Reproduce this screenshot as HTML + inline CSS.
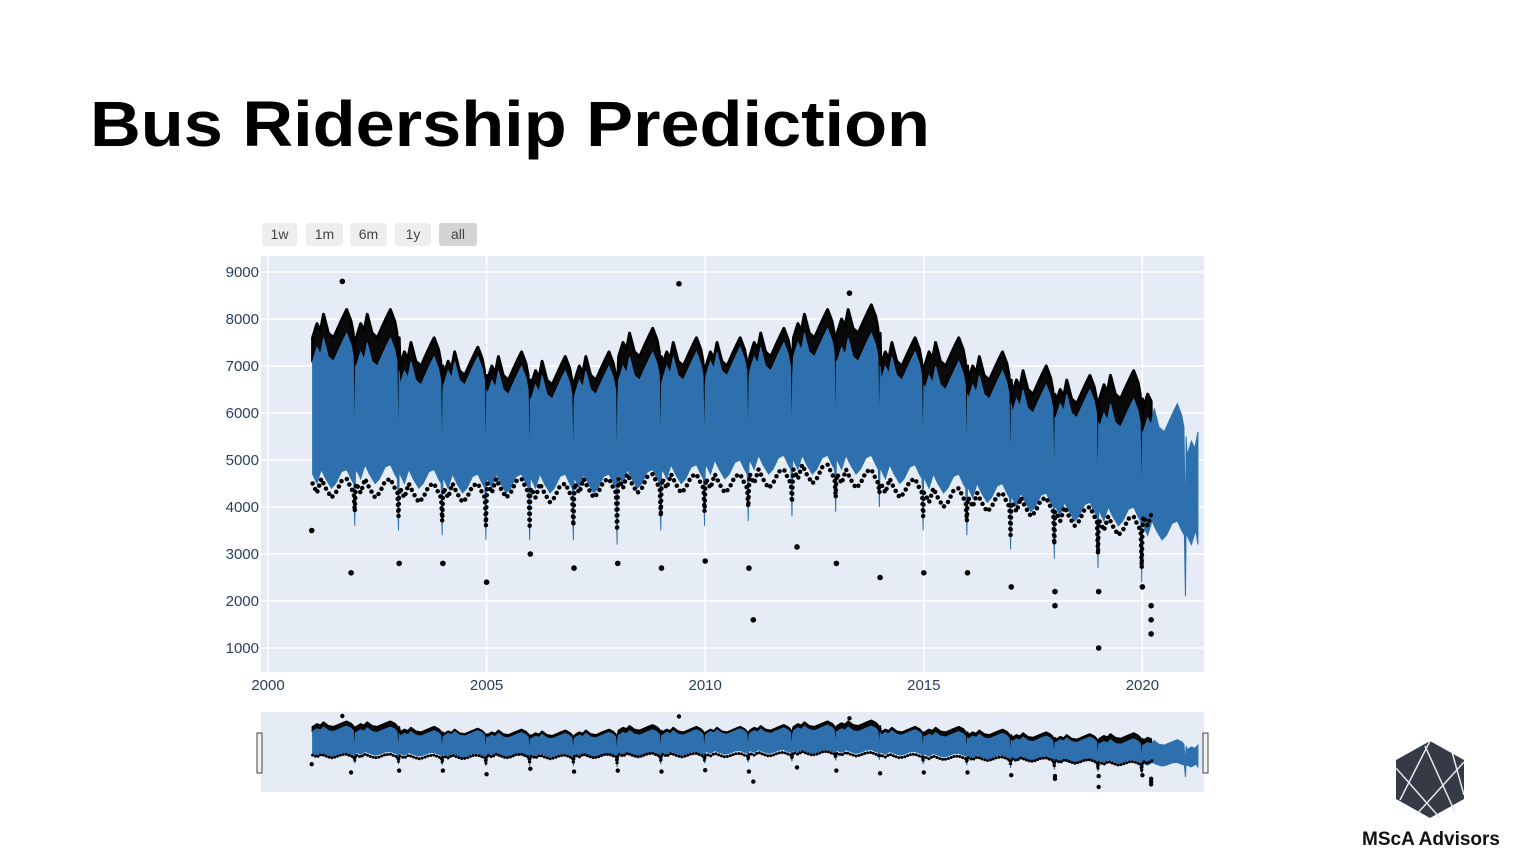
<!DOCTYPE html>
<html><head><meta charset="utf-8"><style>
html,body{margin:0;padding:0;background:#fff;}
svg{display:block;font-family:"Liberation Sans",sans-serif;}
</style></head><body>
<svg id="s" width="1514" height="860" viewBox="0 0 1514 860">
<text x="90" y="146" font-size="64" font-weight="bold" textLength="840" lengthAdjust="spacingAndGlyphs" fill="#000">Bus Ridership Prediction</text>
<g font-size="14" fill="#444">
<g><rect x="262" y="223" width="35" height="23" rx="3" fill="#eeeeee"/><text x="279.5" y="239" text-anchor="middle" fill="#444">1w</text></g>
<g><rect x="306" y="223" width="37" height="23" rx="3" fill="#eeeeee"/><text x="324.5" y="239" text-anchor="middle" fill="#444">1m</text></g>
<g><rect x="350" y="223" width="37" height="23" rx="3" fill="#eeeeee"/><text x="368.5" y="239" text-anchor="middle" fill="#444">6m</text></g>
<g><rect x="395" y="223" width="36" height="23" rx="3" fill="#eeeeee"/><text x="413" y="239" text-anchor="middle" fill="#444">1y</text></g>
<g><rect x="439" y="223" width="38" height="23" rx="3" fill="#d4d4d4"/><text x="458" y="239" text-anchor="middle" fill="#444">all</text></g>
</g>
<rect x="261" y="256" width="943" height="416" fill="#e5ecf6"/>
<g id="grid"></g>
<g id="main"></g>
<g id="axes" font-size="15" fill="#2a3f5f"></g>
<rect x="261" y="712" width="943" height="80" fill="#e5ecf6"/>
<g id="mini"></g>
<rect x="257" y="733" width="5" height="40" fill="#f2f2f2" stroke="#444"/>
<rect x="1203" y="733" width="5" height="40" fill="#f2f2f2" stroke="#444"/>
<g>
<polygon points="1430,741 1464,760 1464,799 1430,818 1396,799 1396,760" fill="#343b46"/>
<g stroke="#e8e8e8" stroke-width="1.5" fill="none">
<line x1="1430" y1="741" x2="1400" y2="800"/><line x1="1425" y1="746" x2="1455" y2="812"/>
<line x1="1396" y1="768" x2="1440" y2="818"/><line x1="1464" y1="762" x2="1416" y2="815"/>
<line x1="1452" y1="752" x2="1464" y2="795"/>
</g>
<text x="1431" y="845" font-size="19" font-weight="bold" text-anchor="middle" fill="#111">MScA Advisors</text>
</g>
</svg>
<script>
const years=[2001,2002,2003,2004,2005,2006,2007,2008,2009,2010,2011,2012,2013,2014,2015,2016,2017,2018,2019,2020,2021];
const bandUpper=[7700,7600,7200,7200,7000,6900,7000,7300,7300,7400,7500,7800,7700,7300,7100,6900,6600,6500,6300,6200,5700];
const bandLower=[4500,4600,4500,4400,4400,4400,4400,4500,4600,4700,4800,4800,4800,4600,4400,4200,4000,3800,3700,3400,3200];
const yearEndDip=[3600,3500,3400,3300,3300,3300,3200,3500,3600,3700,3800,3900,4000,3500,3400,3100,2900,2700,2400,2100,2100];
const obsTop=[8200,8200,7600,7400,7300,7200,7300,7800,7600,7600,7800,8200,8300,7600,7600,7300,7000,6800,6900,6700];
const obsLow=[4300,4300,4200,4200,4300,4200,4300,4400,4400,4400,4500,4600,4500,4300,4100,4000,3900,3700,3500,3600];
const outlierT=[2001.0,2001.9,2001.7,2003.0,2004.0,2005.0,2006.0,2007.0,2008.0,2009.0,2009.4,2010.0,2011.0,2011.1,2012.1,2013.0,2013.3,2014.0,2015.0,2016.0,2017.0,2018.0,2018.0,2019.0,2019.0,2020.0,2020.2,2020.2,2020.2];
const outlierV=[3500,2600,8800,2800,2800,2400,3000,2700,2800,2700,8750,2850,2700,1600,3150,2800,8550,2500,2600,2600,2300,1900,2200,1000,2200,2300,1300,1600,1900];
const xTicks=[2000,2005,2010,2015,2020];
const yTicks=[1000,2000,3000,4000,5000,6000,7000,8000,9000];
const END=2021.27;
const NS='http://www.w3.org/2000/svg';
const X=t=>268+(t-2000)*43.72;
const Ym=v=>272+(9000-v)*0.047;
const Yr=v=>716+(8800-v)*(71/7800);
function mk(tag,attrs,parent){const e=document.createElementNS(NS,tag);for(const k in attrs)e.setAttribute(k,attrs[k]);parent.appendChild(e);return e;}
const grid=document.getElementById('grid'),axes=document.getElementById('axes');
xTicks.forEach(t=>{
  const l=mk('line',{x1:X(t),x2:X(t),y1:256,y2:672,stroke:'#fff','stroke-width':1.5},grid);
  
  
  const tx=mk('text',{x:X(t),y:690,'text-anchor':'middle'},axes);tx.textContent=t;
  
  
});
yTicks.forEach(v=>{
  const l=mk('line',{x1:261,x2:1204,y1:Ym(v),y2:Ym(v),stroke:'#fff','stroke-width':1.5},grid);
  
  
  const tx=mk('text',{x:259,y:Ym(v)+5,'text-anchor':'end'},axes);tx.textContent=v;
  
  
});
const TOPSHAPE=[[0.02,-600],[0.12,-300],[0.2,-450],[0.27,-100],[0.38,-500],[0.5,-600],[0.62,-350],[0.72,-150],[0.8,0],[0.9,-250],[0.95,-500]];
const BOTSHAPE=[[0.02,200],[0.12,0],[0.22,300],[0.32,100],[0.45,-100],[0.55,0],[0.68,250],[0.8,300],[0.9,100],[0.96,0]];
function topPts(){const p=[];years.forEach((yr,i)=>{const u=bandUpper[i],d=yearEndDip[i];
  TOPSHAPE.concat([[0.985,d+1300-u],[1.0,-700]]).forEach(([f,o])=>{const v=f===0.985?d+1300:u+o;if(yr+f<=END)p.push([yr+f,v]);});});
  p.push([END,bandUpper[years.length-1]-500]);return p;}
function botPts(){const p=[];years.forEach((yr,i)=>{const l=bandLower[i],d=yearEndDip[i];
  BOTSHAPE.forEach(([f,o])=>{if(yr+f<=END)p.push([yr+f,l+o]);});
  [[0.985,d],[1.0,l+200]].forEach(([f,v])=>{if(yr+f<=END)p.push([yr+f,v]);});});
  p.push([END,bandLower[years.length-1]]);return p;}
function obsTopPts(){const p=[];obsTop.forEach((v,i)=>{const yr=years[i];
  TOPSHAPE.forEach(([f,o])=>{if(yr+f<=2020.25)p.push([yr+f,v+o]);});
  [[0.985,yearEndDip[i]+1500],[1.0,v-600]].forEach(([f,w])=>{if(yr+f<=2020.25)p.push([yr+f,w]);});});return p;}
function obsLowPts(){const p=[];obsLow.forEach((v,i)=>{const yr=years[i];
  BOTSHAPE.forEach(([f,o])=>{if(yr+f<=2020.25)p.push([yr+f,v+o]);});
  [[0.985,yearEndDip[i]+300],[1.0,v]].forEach(([f,w])=>{if(yr+f<=2020.25)p.push([yr+f,w]);});});return p;}
function draw(g,Y,small){
  const tp=topPts(),bp=botPts(),ot=obsTopPts(),ol=obsLowPts();
  const bandTopSub=tp.filter(p=>p[0]<=2020.25);
  const fr=ot.map(p=>X(p[0])+','+Y(p[1])).concat(bandTopSub.slice().reverse().map(p=>X(p[0])+','+Y(p[1])));
  const f=mk('polygon',{points:fr.join(' '),fill:'#0a0a0a',stroke:'#000','stroke-width':small?2:3,'stroke-linejoin':'round'},g);
  
  
  const band=tp.concat(bp.slice().reverse()).map(p=>X(p[0])+','+Y(p[1])).join(' ');
  const b=mk('polygon',{points:band,fill:'#2e70ad',stroke:'#2e70ad','stroke-width':1},g);
  
  
  const lo=mk('polyline',{points:ol.map(p=>X(p[0])+','+Y(p[1])).join(' '),fill:'none',stroke:'#000','stroke-width':small?3:4.5,'stroke-linecap':'round','stroke-dasharray':small?'0 3':'0 6'},g);
  
  
  outlierT.forEach((t,i)=>{
    const c=mk('circle',{cx:X(t),cy:Y(outlierV[i]),r:small?2.2:2.8,fill:'#000'},g);
    
    
  });
}
draw(document.getElementById('main'),Ym,false);
draw(document.getElementById('mini'),Yr,true);
</script>
</body></html>
